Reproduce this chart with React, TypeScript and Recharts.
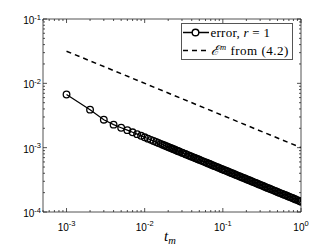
import { LineChart, Line, XAxis, YAxis, Legend } from 'recharts';

// t_m values where the error markers sit (dense part thinned out, the marks overlap anyway)
const tm = [
  0.001, 0.002, 0.003, 0.004, 0.005, 0.006, 0.007, 0.008, 0.009, 0.01,
  0.011, 0.012, 0.013, 0.014, 0.015, 0.016, 0.017, 0.018, 0.019, 0.02,
  0.021, 0.022, 0.023, 0.024, 0.025, 0.026, 0.027, 0.028, 0.03, 0.031,
  0.033, 0.034, 0.036, 0.038, 0.04, 0.042, 0.044, 0.046, 0.048, 0.05,
  0.053, 0.056, 0.059, 0.062, 0.065, 0.068, 0.071, 0.075, 0.079, 0.083,
  0.087, 0.091, 0.096, 0.1, 0.105, 0.11, 0.116, 0.122, 0.128, 0.134,
  0.141, 0.148, 0.155, 0.163, 0.171, 0.18, 0.189, 0.198, 0.208, 0.218,
  0.229, 0.24, 0.252, 0.265, 0.278, 0.292, 0.307, 0.322, 0.338, 0.355,
  0.373, 0.392, 0.411, 0.432, 0.454, 0.476, 0.5, 0.525, 0.551, 0.579,
  0.608, 0.638, 0.67, 0.704, 0.739, 0.776, 0.815, 0.855, 0.898, 0.943,
  0.99, 1.0,
];

// error, r = 1
const errR1 = [
  6.7e-3, 3.9e-3, 2.72e-3, 2.28e-3, 2.04e-3, 1.872e-3, 1.733e-3, 1.621e-3, 1.528e-3, 1.45e-3,
  1.382e-3, 1.324e-3, 1.272e-3, 1.225e-3, 1.184e-3, 1.146e-3, 1.112e-3, 1.081e-3, 1.052e-3, 1.025e-3,
  1.001e-3, 0.978e-3, 0.956e-3, 0.936e-3, 0.917e-3, 0.899e-3, 0.882e-3, 0.866e-3, 0.837e-3, 0.823e-3,
  0.798e-3, 0.786e-3, 0.764e-3, 0.744e-3, 0.725e-3, 0.707e-3, 0.691e-3, 0.676e-3, 0.662e-3, 0.648e-3,
  0.63e-3, 0.613e-3, 0.597e-3, 0.582e-3, 0.569e-3, 0.556e-3, 0.544e-3, 0.529e-3, 0.516e-3, 0.503e-3,
  0.492e-3, 0.481e-3, 0.468e-3, 0.459e-3, 0.447e-3, 0.437e-3, 0.426e-3, 0.415e-3, 0.405e-3, 0.396e-3,
  0.386e-3, 0.377e-3, 0.368e-3, 0.359e-3, 0.351e-3, 0.342e-3, 0.334e-3, 0.326e-3, 0.318e-3, 0.311e-3,
  0.303e-3, 0.296e-3, 0.289e-3, 0.282e-3, 0.275e-3, 0.268e-3, 0.262e-3, 0.256e-3, 0.249e-3, 0.243e-3,
  0.237e-3, 0.232e-3, 0.226e-3, 0.221e-3, 0.215e-3, 0.21e-3, 0.205e-3, 0.2e-3, 0.195e-3, 0.191e-3,
  0.186e-3, 0.182e-3, 0.177e-3, 0.173e-3, 0.169e-3, 0.165e-3, 0.161e-3, 0.157e-3, 0.153e-3, 0.149e-3,
  0.146e-3, 0.145e-3,
];

// E^m bound from (4.2)
const boundT = [0.001, 1];
const boundE = [0.0316, 0.001];

const xTicks = [
  5e-4, 6e-4, 7e-4, 8e-4, 9e-4,
  1e-3, 2e-3, 3e-3, 4e-3, 5e-3, 6e-3, 7e-3, 8e-3, 9e-3,
  1e-2, 2e-2, 3e-2, 4e-2, 5e-2, 6e-2, 7e-2, 8e-2, 9e-2,
  1e-1, 0.2, 0.3, 0.4, 0.5, 0.6, 0.7, 0.8, 0.9,
  1,
];
const yTicks = [
  1e-4, 2e-4, 3e-4, 4e-4, 5e-4, 6e-4, 7e-4, 8e-4, 9e-4,
  1e-3, 2e-3, 3e-3, 4e-3, 5e-3, 6e-3, 7e-3, 8e-3, 9e-3,
  1e-2, 2e-2, 3e-2, 4e-2, 5e-2, 6e-2, 7e-2, 8e-2, 9e-2,
  1e-1,
];

const errData = tm.map((t, i) => ({ t, err: errR1[i] }));
const boundData = boundT.map((t, i) => ({ t, bound: boundE[i] }));

const AX = '#262626';
const SANS = '"Liberation Sans", Arial, sans-serif';
const SERIF = '"Liberation Serif", "DejaVu Serif", serif';

const isMajor = (v: number) => {
  const l = Math.log10(v);
  return Math.abs(l - Math.round(l)) < 1e-6;
};
const expo = (v: number) => String(Math.round(Math.log10(v)));

const BottomTick = (p: any) => {
  const { x, y, payload } = p;
  const major = isMajor(payload.value);
  return (
    <g>
      <line x1={x} x2={x} y1={y} y2={y - (major ? 4 : 2)} stroke={AX} strokeWidth={0.8} />
      {major && (
        <text x={x} y={y + 19} textAnchor="middle" fontFamily={SANS} fontSize={10} fill="#000">
          10
          <tspan dy={-5.5} fontSize={7.5}>{expo(payload.value)}</tspan>
        </text>
      )}
    </g>
  );
};

const TopTick = (p: any) => {
  const { x, y, payload } = p;
  const major = isMajor(payload.value);
  return <line x1={x} x2={x} y1={y} y2={y + (major ? 4 : 2)} stroke={AX} strokeWidth={0.8} />;
};

const LeftTick = (p: any) => {
  const { x, y, payload } = p;
  const major = isMajor(payload.value);
  return (
    <g>
      <line x1={x} x2={x + (major ? 4 : 2)} y1={y} y2={y} stroke={AX} strokeWidth={0.8} />
      {major && (
        <text x={x - 2} y={y + 5} textAnchor="end" fontFamily={SANS} fontSize={10} fill="#000">
          10
          <tspan dy={-4.5} fontSize={7.5}>{expo(payload.value)}</tspan>
        </text>
      )}
    </g>
  );
};

const RightTick = (p: any) => {
  const { x, y, payload } = p;
  const major = isMajor(payload.value);
  return <line x1={x} x2={x - (major ? 4 : 2)} y1={y} y2={y} stroke={AX} strokeWidth={0.8} />;
};

const XLabel = (p: any) => {
  const vb = p.viewBox;
  return (
    <text x={vb.x + vb.width / 2 - 2} y={vb.y + 29} textAnchor="middle" fontFamily={SERIF} fontSize={15} fontStyle="italic" fill="#000">
      t<tspan dy={3} fontSize={10.5}>m</tspan>
    </text>
  );
};

const LegendBox = () => (
  <svg width={112} height={37} style={{ display: 'block' }}>
    <rect x={0.5} y={0.5} width={111} height={36} fill="#fff" stroke="#555" strokeWidth={1} />
    <line x1={2} x2={28} y1={9.5} y2={9.5} stroke="#000" strokeWidth={1.5} />
    <circle cx={14.5} cy={9.5} r={3.3} fill="#fff" stroke="#000" strokeWidth={1.4} />
    <text x={29.5} y={13.5} fontFamily={SERIF} fontSize={13} letterSpacing={0.25} fill="#000">
      error, <tspan fontStyle="italic">r</tspan> = 1
    </text>
    <line x1={2} x2={27} y1={27.5} y2={27.5} stroke="#000" strokeWidth={1.5} strokeDasharray="5 4" />
    <text x={29.5} y={31.5} fontFamily={SERIF} fontSize={13} letterSpacing={0.5} fill="#000">
      <tspan fontSize={13.5} fontStyle="italic">ℰ</tspan>
      <tspan dx={1} dy={-5} fontSize={8.5} fontStyle="italic">m</tspan>
      <tspan dy={5}> from (4.2)</tspan>
    </text>
  </svg>
);

export default function App() {
  return (
    <div style={{ position: 'absolute', left: 0, top: 0, width: 332, height: 249, background: '#fff' }}>
      <LineChart width={332} height={249} margin={{ top: 0, right: 0, bottom: 0, left: 0 }}>
        <XAxis
          dataKey="t"
          type="number"
          scale="log"
          domain={[5e-4, 1]}
          allowDataOverflow
          ticks={xTicks}
          interval={0}
          height={37}
          tickSize={0}
          tickMargin={0}
          tickLine={false}
          axisLine={{ stroke: AX, strokeWidth: 0.8 }}
          tick={BottomTick}
          label={XLabel}
        />
        <XAxis
          xAxisId="top"
          orientation="top"
          dataKey="t"
          type="number"
          scale="log"
          domain={[5e-4, 1]}
          allowDataOverflow
          ticks={xTicks}
          interval={0}
          height={19}
          tickSize={0}
          tickMargin={0}
          tickLine={false}
          axisLine={{ stroke: AX, strokeWidth: 0.8 }}
          tick={TopTick}
        />
        <YAxis
          type="number"
          scale="log"
          domain={[1e-4, 1e-1]}
          allowDataOverflow
          ticks={yTicks}
          interval={0}
          width={43}
          tickSize={0}
          tickMargin={0}
          tickLine={false}
          axisLine={{ stroke: AX, strokeWidth: 0.8 }}
          tick={LeftTick}
        />
        <YAxis
          yAxisId="right"
          orientation="right"
          type="number"
          scale="log"
          domain={[1e-4, 1e-1]}
          allowDataOverflow
          ticks={yTicks}
          interval={0}
          width={31}
          tickSize={0}
          tickMargin={0}
          tickLine={false}
          axisLine={{ stroke: AX, strokeWidth: 0.8 }}
          tick={RightTick}
        />
        <Line
          data={boundData}
          dataKey="bound"
          type="linear"
          stroke="#000"
          strokeWidth={1.5}
          strokeDasharray="5 4"
          dot={false}
          activeDot={false}
          isAnimationActive={false}
        />
        <Line
          data={errData}
          dataKey="err"
          type="linear"
          stroke="#000"
          strokeWidth={1.2}
          dot={{ r: 3.3, stroke: '#000', strokeWidth: 1.3, fill: 'none' }}
          activeDot={false}
          isAnimationActive={false}
        />
        <Legend
          layout="vertical"
          align="center"
          verticalAlign="middle"
          content={LegendBox}
          wrapperStyle={{ position: 'absolute', left: 181, top: 23, width: 112, height: 37 }}
        />
      </LineChart>
    </div>
  );
}
